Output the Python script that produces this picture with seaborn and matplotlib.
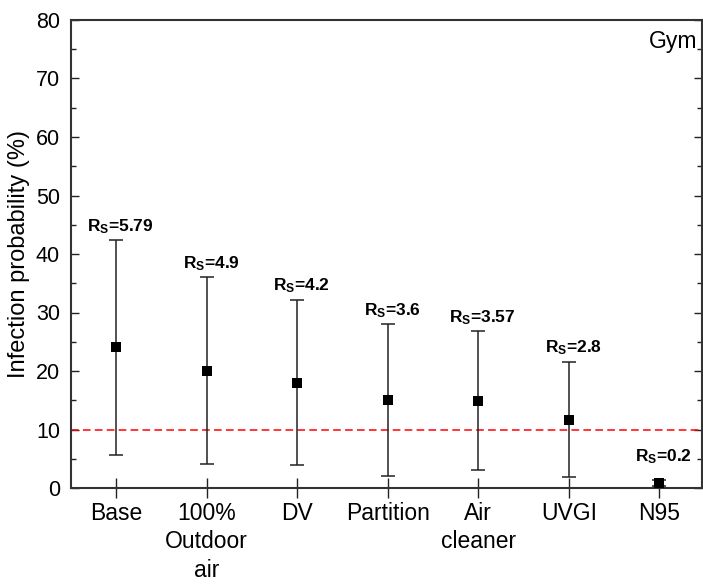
import numpy as np
import pandas as pd
import matplotlib
matplotlib.use("Agg")
import matplotlib.pyplot as plt
import seaborn as sns
from matplotlib.ticker import MultipleLocator

categories = ["Base", "100%\nOutdoor\nair", "DV", "Partition", "Air\ncleaner", "UVGI", "N95"]
mean_vals = [24.1, 20.0, 18.0, 15.0, 14.8, 11.6, 0.8]
upper_vals = [42.4, 36.0, 32.2, 28.0, 26.8, 21.6, 1.3]
lower_vals = [5.6, 4.1, 3.9, 2.1, 3.0, 1.8, 0.3]
rs_labels = ["5.79", "4.9", "4.2", "3.6", "3.57", "2.8", "0.2"]
threshold = 10

sns.set_theme(style="ticks")
plt.rcParams['font.family'] = ['Liberation Sans', 'DejaVu Sans']
plt.rcParams['mathtext.fontset'] = 'custom'
plt.rcParams['mathtext.rm'] = 'Liberation Sans'
plt.rcParams['mathtext.bf'] = 'Liberation Sans:bold'
plt.rcParams['mathtext.it'] = 'Liberation Sans:italic'
plt.rcParams['text.color'] = 'black'
plt.rcParams['axes.labelcolor'] = 'black'

df = pd.DataFrame({"cat": categories, "mean": mean_vals,
                   "upper": upper_vals, "lower": lower_vals})

fig = plt.figure(figsize=(7.03, 5.85), dpi=100)
ax = fig.add_axes([71/703, 1 - 488/585, (702 - 71)/703, (488 - 20)/585])

x = np.arange(len(categories))
yerr = np.array([df["mean"] - df["lower"], df["upper"] - df["mean"]])
ax.errorbar(x, df["mean"], yerr=yerr, fmt='none', ecolor='#222222',
            elinewidth=1.1, capsize=5, capthick=1.1, zorder=2)
sns.scatterplot(data=df, x="cat", y="mean", marker='s', s=60, color='black',
                edgecolor='black', linewidth=0, ax=ax, zorder=3)

ax.axhline(threshold, color='red', linestyle=(0, (5, 2.8)), linewidth=1.1, zorder=1)

for xi, up, lab in zip(x, upper_vals, rs_labels):
    ytxt = max(up, 3.0)
    ax.annotate(r'$\mathbf{R}_{\mathbf{S}}$' + '=' + lab, xy=(xi, ytxt),
                xytext=(3, 3), textcoords='offset points', ha='center', va='bottom',
                fontsize=12.5, fontweight='bold', color='black')

ax.set_xlim(-0.5, 6.47)
ax.set_ylim(0, 80)
ax.yaxis.set_major_locator(MultipleLocator(10))
ax.yaxis.set_minor_locator(MultipleLocator(5))
ax.set_xticks(x)
ax.set_xticklabels(categories, fontsize=16.5, linespacing=1.3)
ax.set_xlabel("")
ax.set_ylabel("Infection probability (%)", fontsize=17, labelpad=4, color='black')
ax.tick_params(axis='y', which='major', direction='in', length=6, width=1,
               labelsize=15.5, right=True, left=True, pad=8,
               colors='#222222', labelcolor='black')
ax.tick_params(axis='y', which='minor', direction='in', length=3.5, width=1,
               right=True, left=True, colors='#222222')
ax.tick_params(axis='x', which='major', direction='inout', length=14, width=1,
               top=False, pad=3, colors='#222222', labelcolor='black')
for sp in ax.spines.values():
    sp.set_visible(True)
    sp.set_linewidth(1.5)
    sp.set_color('#333333')

ax.text(0.993, 0.978, "Gym", transform=ax.transAxes, ha='right', va='top',
        fontsize=16.5, color='black')

fig.savefig("out.png", dpi=100)
